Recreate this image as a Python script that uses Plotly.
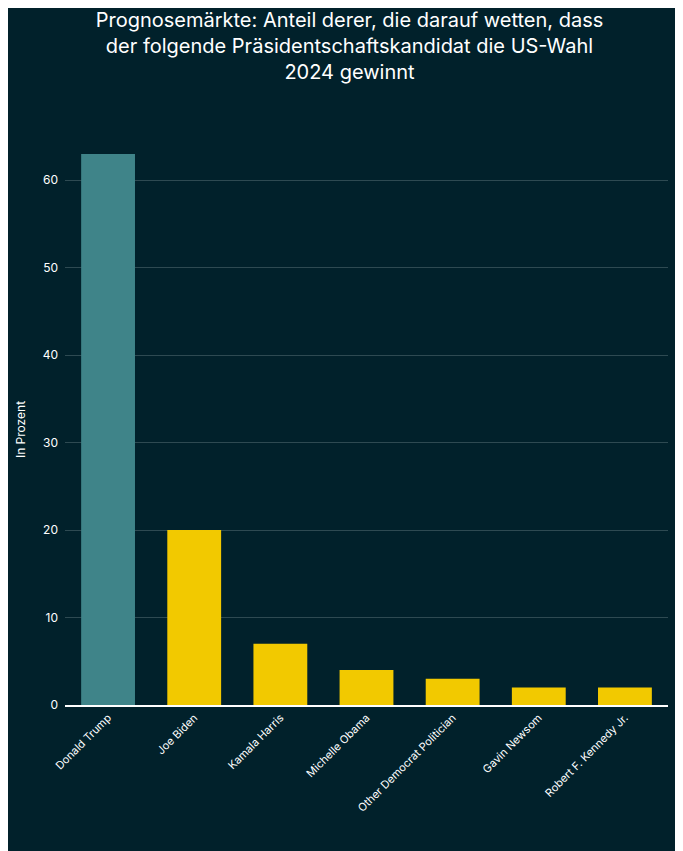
import plotly.graph_objects as go

categories = ["Donald Trump", "Joe Biden", "Kamala Harris", "Michelle Obama",
              "Other Democrat Politician", "Gavin Newsom", "Robert F. Kennedy Jr."]
values = [63, 20, 7, 4, 3, 2, 2]
colors = ["#3f8489"] + ["#f2c900"] * 6

fig = go.Figure(go.Bar(x=categories, y=values, marker_color=colors, marker_line_width=0))
fig.update_layout(
    width=683, height=851,
    paper_bgcolor="#01212b", plot_bgcolor="#01212b",
    font=dict(family="Inter, sans-serif", color="#ffffff", size=12),
    title=dict(text="Prognosemärkte: Anteil derer, die darauf wetten, dass<br>der folgende Präsidentschaftskandidat die US-Wahl<br>2024 gewinnt",
               x=0.5, xanchor="center", y=0.978, yanchor="top",
               font=dict(size=20, color="#ffffff")),
    margin=dict(l=42, r=23, t=146, b=154),
    bargap=0.375, showlegend=False,
)
fig.update_yaxes(range=[0, 63], tickvals=[0, 10, 20, 30, 40, 50, 60],
                 gridcolor="#2e4a52", gridwidth=1, zeroline=False,
                 ticks="", ticklabelstandoff=6,
                 title=dict(text="In Prozent", font=dict(size=12), standoff=14),
                 tickfont=dict(size=12))
fig.update_xaxes(tickangle=-45, tickfont=dict(size=11), showline=True,
                 linecolor="#ffffff", linewidth=2, ticks="")
fig.write_html("out.html")
